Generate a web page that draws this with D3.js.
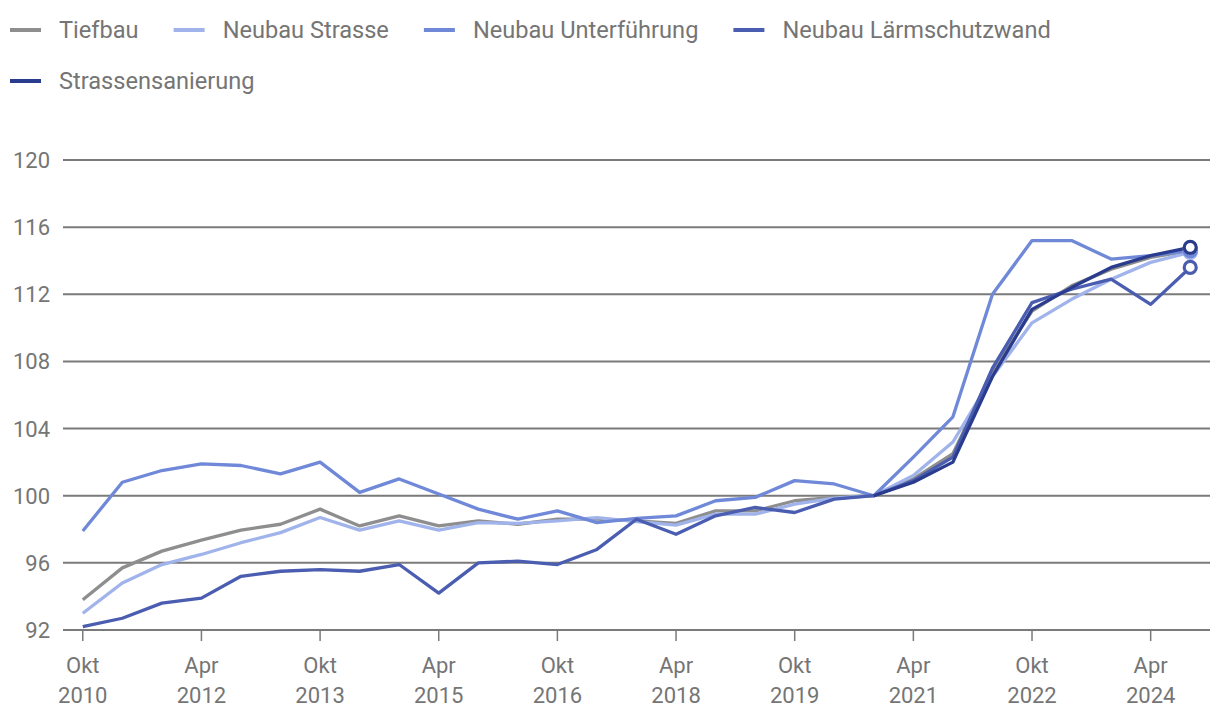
<!DOCTYPE html>
<html><head><meta charset="utf-8">
<script src="https://cdn.jsdelivr.net/npm/d3@7"></script>
<style>
body{margin:0;background:#fff;}
svg{display:block;font-family:Roboto,"Noto Sans",sans-serif;}
</style></head>
<body><svg id="c" width="1220" height="722"></svg>
<script>
const periods = ["Okt 2010","Apr 2011","Okt 2011","Apr 2012","Okt 2012","Apr 2013","Okt 2013","Apr 2014","Okt 2014","Apr 2015","Okt 2015","Apr 2016","Okt 2016","Apr 2017","Okt 2017","Apr 2018","Okt 2018","Apr 2019","Okt 2019","Apr 2020","Okt 2020","Apr 2021","Okt 2021","Apr 2022","Okt 2022","Apr 2023","Okt 2023","Apr 2024","Okt 2024"];
const seriesNames = ["Tiefbau","Neubau Strasse","Neubau Unterführung","Neubau Lärmschutzwand","Strassensanierung"];
const tiefbau = [93.8,95.7,96.7,97.35,97.95,98.3,99.2,98.2,98.8,98.2,98.5,98.3,98.6,98.6,98.5,98.35,99.1,99.1,99.7,99.9,100,101.0,102.5,107.4,111.0,112.5,113.5,114.2,114.6];
const neubauStrasse = [93.0,94.8,95.9,96.5,97.2,97.8,98.7,97.95,98.5,97.95,98.4,98.35,98.5,98.7,98.45,98.25,98.9,98.9,99.5,99.85,100,101.2,103.2,107.1,110.3,111.7,112.9,113.9,114.5];
const neubauUnterfuehrung = [97.9,100.8,101.5,101.9,101.8,101.3,102.0,100.2,101.0,100.1,99.2,98.6,99.1,98.4,98.65,98.8,99.7,99.9,100.9,100.7,100,102.3,104.7,112.0,115.2,115.2,114.1,114.3,114.6];
const neubauLaermschutzwand = [92.2,92.7,93.6,93.9,95.2,95.5,95.6,95.5,95.9,94.2,96.0,96.1,95.9,96.8,98.6,97.7,98.8,99.3,99.0,99.8,100,100.9,102.3,107.6,111.5,112.3,112.9,111.4,113.6];
const strassensanierung = [null,null,null,null,null,null,null,null,null,null,null,null,null,null,null,null,null,null,null,null,100,100.8,102.0,107.1,111.1,112.4,113.6,114.3,114.8];
const yTicks = [92,96,100,104,108,112,116,120];
const colors = ["#8e8e8e","#a0b3ea","#6f88d8","#4a5db0","#2a3c8e"];

const allSeries = [tiefbau,neubauStrasse,neubauUnterfuehrung,neubauLaermschutzwand,strassensanierung];
const svg = d3.select("#c");
const mLeft = 63, mRight = 1210, mTop = 160, mBottom = 630;
const x = d3.scaleBand().domain(periods).range([mLeft,mRight]);
const cx = p => x(p) + x.bandwidth()/2;
const y = d3.scaleLinear().domain([92,120]).range([mBottom,mTop]);
const textCol = "#757575";

// grid
svg.append("g").selectAll("line").data(yTicks).join("line")
  .attr("x1",mLeft).attr("x2",mRight)
  .attr("y1",d=>y(d)).attr("y2",d=>y(d))
  .attr("stroke","#7a7a7a").attr("stroke-width",2);
svg.append("g").selectAll("text").data(yTicks).join("text")
  .attr("x",50).attr("y",d=>y(d)+8).attr("text-anchor","end")
  .attr("font-size",22).attr("fill",textCol).text(d=>d);

// x ticks
const tickPeriods = periods.filter((p,i)=>i%3===0);
const xt = svg.append("g");
xt.selectAll("line").data(tickPeriods).join("line")
  .attr("x1",d=>cx(d)).attr("x2",d=>cx(d)).attr("y1",mBottom).attr("y2",mBottom+11)
  .attr("stroke","#7a7a7a").attr("stroke-width",1.5);
const lbl = xt.selectAll("text").data(tickPeriods).join("text")
  .attr("text-anchor","middle").attr("font-size",22).attr("fill",textCol);
lbl.append("tspan").attr("x",d=>cx(d)).attr("y",673).text(d=>d.split(" ")[0]);
lbl.append("tspan").attr("x",d=>cx(d)).attr("y",703).text(d=>d.split(" ")[1]);

// lines
const line = d3.line().defined(d=>d.v!=null).x(d=>cx(d.p)).y(d=>y(d.v));
allSeries.forEach((s,i)=>{
  const pts = s.map((v,j)=>({p:periods[j],v}));
  svg.append("path").datum(pts).attr("d",line).attr("fill","none")
    .attr("stroke",colors[i]).attr("stroke-width",3.3).attr("stroke-linejoin","round");
});
allSeries.forEach((s,i)=>{
  const j = s.length-1;
  svg.append("circle").attr("cx",cx(periods[j])).attr("cy",y(s[j])).attr("r",6)
    .attr("fill","#fff").attr("stroke",colors[i]).attr("stroke-width",3.2);
});

// legend
const lg = svg.append("g");
let lx = 10, ly = 30;
seriesNames.forEach((n,i)=>{
  if(i===4){lx=10; ly=81;}
  lg.append("line").attr("x1",lx).attr("x2",lx+31).attr("y1",ly).attr("y2",ly)
    .attr("stroke",colors[i]).attr("stroke-width",4);
  const t = lg.append("text").attr("x",lx+49).attr("y",ly+8).attr("font-size",23.6)
    .attr("fill",textCol).text(n);
  lx += 49 + t.node().getComputedTextLength() + 35;
});
</script></body></html>
